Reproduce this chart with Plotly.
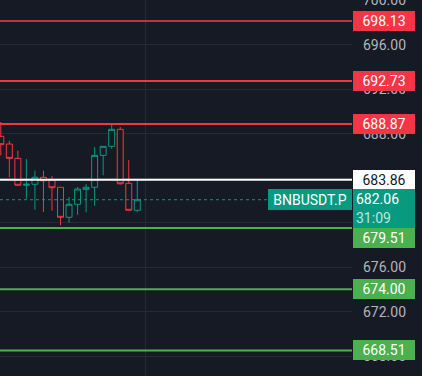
import plotly.graph_objects as go

# ---- data ----
candle_idx = list(range(17))
opens  = [687.76, 687.07, 685.78, 683.36, 683.45, 684.08, 683.83, 683.18, 680.48, 681.65, 682.99, 683.18, 686.05, 686.86, 688.39, 683.54, 681.11]
highs  = [689.05, 687.37, 686.47, 685.72, 684.67, 684.67, 684.19, 683.18, 682.30, 683.20, 683.47, 686.80, 686.86, 688.96, 688.60, 685.63, 683.92]
lows   = [686.05, 684.08, 683.33, 682.15, 681.16, 680.96, 681.07, 679.76, 679.99, 680.71, 680.93, 681.52, 684.26, 686.65, 683.41, 681.11, 680.93]
closes = [687.01, 685.78, 683.36, 683.45, 684.08, 683.77, 683.14, 680.48, 681.65, 683.02, 683.18, 686.05, 686.86, 688.39, 683.50, 681.11, 682.06]

red_levels = [698.13, 692.73, 688.87]
green_levels = [679.51, 674.00, 668.51]
white_level = 683.86
last_price = 682.06
countdown = "31:09"
symbol = "BNBUSDT.P"
y_ticks = [668, 672, 676, 680, 684, 688, 692, 696, 700]
time_grid = [17]

# ---- styling ----
BG = "#161A25"
GRID = "#262A35"
RED = "#F23645"
GREEN_C = "#089981"
GREEN_L = "#4CAF50"
TEAL = "#089981"
FONT = "Roboto"

fig = go.Figure()
fig.add_trace(go.Candlestick(
    x=candle_idx, open=opens, high=highs, low=lows, close=closes,
    increasing=dict(line=dict(color=GREEN_C, width=1), fillcolor=BG),
    decreasing=dict(line=dict(color=RED, width=1), fillcolor=BG),
    whiskerwidth=0, showlegend=False, hoverinfo="skip",
))

shapes = []
for i, lv in enumerate(red_levels):
    col = "rgba(242,54,69,0.8)" if i == 0 else RED
    shapes.append(dict(type="line", xref="paper", x0=0, x1=1, yref="y", y0=lv, y1=lv,
                       line=dict(color=col, width=2)))
for lv in green_levels:
    shapes.append(dict(type="line", xref="paper", x0=0, x1=1, yref="y", y0=lv, y1=lv,
                       line=dict(color=GREEN_L, width=2)))
shapes.append(dict(type="line", xref="paper", x0=0, x1=1, yref="y", y0=white_level, y1=white_level,
                   line=dict(color="#FFFFFF", width=2)))
shapes.append(dict(type="line", xref="paper", x0=0, x1=1, yref="y", y0=last_price, y1=last_price,
                   line=dict(color=TEAL, width=1, dash="dot")))

annotations = []
def price_label(val, bg, fg, yshift=0):
    annotations.append(dict(
        xref="paper", x=1, xanchor="left", xshift=1,
        yref="y", y=val, yanchor="middle", yshift=yshift,
        text=f"{val:.2f}", showarrow=False, align="center",
        font=dict(family=FONT, size=14, color=fg),
        bgcolor=bg, borderpad=3, borderwidth=0, width=56, height=14,
    ))

for lv in red_levels:
    price_label(lv, RED, "#FFFFFF")
price_label(white_level, "#FFFFFF", "#131722")
green_shifts = [-10, 0, 0]
for lv, sh in zip(green_levels, green_shifts):
    price_label(lv, GREEN_L, "#FFFFFF", sh)

# last price + countdown
annotations.append(dict(
    xref="paper", x=1, xanchor="left", xshift=1,
    yref="y", y=last_price, yanchor="top", yshift=11,
    text=f"{last_price:.2f}<br><span style='color:rgba(255,255,255,0.75)'>{countdown}</span>",
    showarrow=False, align="left",
    font=dict(family=FONT, size=14, color="#FFFFFF"),
    bgcolor=TEAL, borderpad=3, borderwidth=0, width=56, height=33,
))
# symbol tag
annotations.append(dict(
    xref="paper", x=1, xanchor="right", xshift=0,
    yref="y", y=last_price, yanchor="middle",
    text=symbol, showarrow=False, align="center",
    font=dict(family=FONT, size=14, color="#FFFFFF"),
    bgcolor=TEAL, borderpad=3, borderwidth=0, width=78, height=15,
))

fig.update_layout(
    width=422, height=376,
    margin=dict(l=0, r=70, t=0, b=0, autoexpand=False),
    paper_bgcolor=BG, plot_bgcolor=BG,
    shapes=shapes, annotations=annotations,
    boxgap=0, boxgroupgap=0.3,
    hovermode=False,
    xaxis=dict(range=[-0.094, 41.17], rangeslider=dict(visible=False),
               tickvals=time_grid, showticklabels=False, showgrid=True,
               gridcolor=GRID, gridwidth=1, zeroline=False, showline=False, fixedrange=True,
               automargin=False),
    yaxis=dict(range=[666.21, 700.02], side="right", tickvals=y_ticks,
               ticktext=[f"{v:.2f}" for v in y_ticks],
               showgrid=True, gridcolor=GRID, gridwidth=1, zeroline=False, showline=False,
               tickfont=dict(family=FONT, size=14, color="#B2B5BE"),
               ticks="", ticklabelstandoff=10, ticklabeloverflow="allow", fixedrange=True,
               automargin=False),
    showlegend=False,
)

fig.write_html("out.html", config={"displayModeBar": False},
               post_script="document.body.style.margin='0';document.body.style.padding='0';"
                           "document.body.style.overflow='hidden';document.body.style.background='#161A25';")
